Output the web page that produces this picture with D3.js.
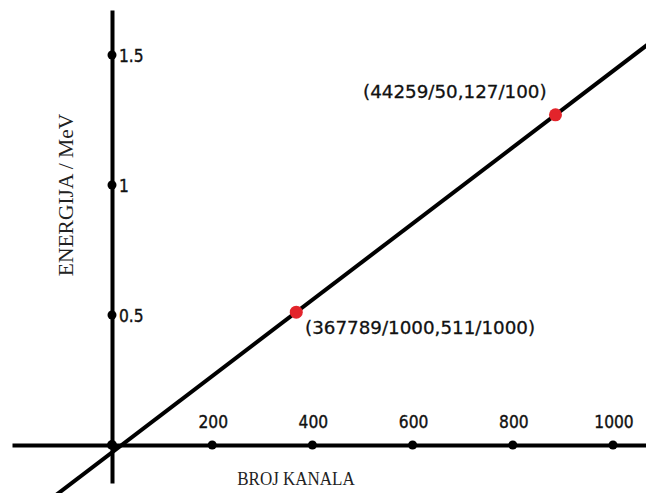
<!DOCTYPE html>
<html>
<head>
<meta charset="utf-8">
<script src="https://cdn.jsdelivr.net/npm/d3@7"></script>
<style>
  html, body { margin: 0; padding: 0; background: #fff; }
  svg { display: block; }
</style>
</head>
<body>
<svg id="chart" width="646" height="493"></svg>
<script>
// ---- data ----
const xTicks = [200, 400, 600, 800, 1000];
const yTicks = [0.5, 1, 1.5];
const yTickLabels = ["0.5", "1", "1.5"];
const pointX = [367.789, 885.18];
const pointY = [0.511, 1.27];
const pointLabels = ["(367789/1000,511/1000)", "(44259/50,127/100)"];
const xTitle = "BROJ KANALA";
const yTitle = "ENERGIJA / MeV";

// ---- scales ----
const W = 646, H = 493;
const x = d3.scaleLinear().domain([0, 1000]).range([112, 613]);
const y = d3.scaleLinear().domain([0, 1.5]).range([445, 55]);

const svg = d3.select("#chart");

// axis extents (beyond data domain)
const xExt = [x.invert(12), x.invert(W + 2)];
const yExt = [y.invert(483), y.invert(10)];

// calibration line through the two points, extended to the plot edges
const slope = (pointY[1] - pointY[0]) / (pointX[1] - pointX[0]);
const icpt = pointY[0] - slope * pointX[0];
const lineXs = [(yExt[0] - 0.05 - icpt) / slope, x.invert(W + 10)];
const lineData = lineXs.map(v => [v, icpt + slope * v]);

// axes via d3 axis generators (domain path used as the thick axis line)
const xAxisScale = x.copy().domain(xExt).range([x(xExt[0]), x(xExt[1])]);
const yAxisScale = y.copy().domain(yExt).range([y(yExt[0]), y(yExt[1])]);

const gx = svg.append("g").attr("transform", `translate(0,${y(0)})`)
  .call(d3.axisBottom(xAxisScale).tickValues([]).tickSizeOuter(0));
gx.select(".domain").attr("stroke", "#000").attr("stroke-width", 4);

const gy = svg.append("g").attr("transform", `translate(${x(0)},0)`)
  .call(d3.axisLeft(yAxisScale).tickValues([]).tickSizeOuter(0));
gy.select(".domain").attr("stroke", "#000").attr("stroke-width", 4);

// fitted line
svg.append("path")
  .datum(lineData)
  .attr("d", d3.line().x(d => x(d[0])).y(d => y(d[1])))
  .attr("stroke", "#000").attr("stroke-width", 4).attr("fill", "none");

// tick dots
svg.append("g").selectAll("circle").data(xTicks).join("circle")
  .attr("cx", d => x(d)).attr("cy", y(0)).attr("r", 4.5).attr("fill", "#000");
svg.append("g").selectAll("circle").data(yTicks).join("circle")
  .attr("cx", x(0)).attr("cy", d => y(d)).attr("r", 4.5).attr("fill", "#000");
svg.append("circle").attr("cx", x(0)).attr("cy", y(0)).attr("r", 5).attr("fill", "#000");

// tick labels
const tickFont = "'DejaVu Sans', Verdana, sans-serif";
svg.append("g").selectAll("text").data(xTicks).join("text")
  .attr("transform", d => `translate(${x(d) + 1},${y(0) - 17}) scale(1,1.15)`)
  .attr("text-anchor", "middle")
  .attr("font-family", tickFont).attr("font-size", 15.5).attr("fill", "#111")
  .attr("stroke", "#111").attr("stroke-width", 0.35)
  .text(d => d);
svg.append("g").selectAll("text").data(yTicks).join("text")
  .attr("transform", (d, i) => `translate(${x(0) + 7},${y(d) + 6.5}) scale(1,1.15)`)
  .attr("font-family", tickFont).attr("font-size", 15.5).attr("fill", "#111")
  .attr("stroke", "#111").attr("stroke-width", 0.35)
  .text((d, i) => yTickLabels[i]);

// red points
svg.append("g").selectAll("circle").data(pointX).join("circle")
  .attr("cx", d => x(d)).attr("cy", (d, i) => y(pointY[i])).attr("r", 6.5)
  .attr("fill", "#e3242b");

// point labels
const labelPos = [[305, 334], [363, 98]];
svg.append("g").selectAll("text").data(pointLabels).join("text")
  .attr("transform", (d, i) => `translate(${labelPos[i][0]},${labelPos[i][1]})`)
  .attr("font-family", tickFont).attr("font-size", 18.3).attr("fill", "#111")
  .attr("stroke", "#111").attr("stroke-width", 0.3)
  .text(d => d);

// axis titles
svg.append("text")
  .attr("transform", `translate(296,485) scale(1,1.15)`)
  .attr("text-anchor", "middle")
  .attr("font-family", "'Liberation Serif', 'Times New Roman', serif")
  .attr("font-size", 17).attr("fill", "#222")
  .text(xTitle);
svg.append("text")
  .attr("transform", `translate(73,195) rotate(-90)`)
  .attr("text-anchor", "middle")
  .attr("font-family", "'Liberation Serif', 'Times New Roman', serif")
  .attr("font-size", 21.5).attr("fill", "#222")
  .text(yTitle);
</script>
</body>
</html>
